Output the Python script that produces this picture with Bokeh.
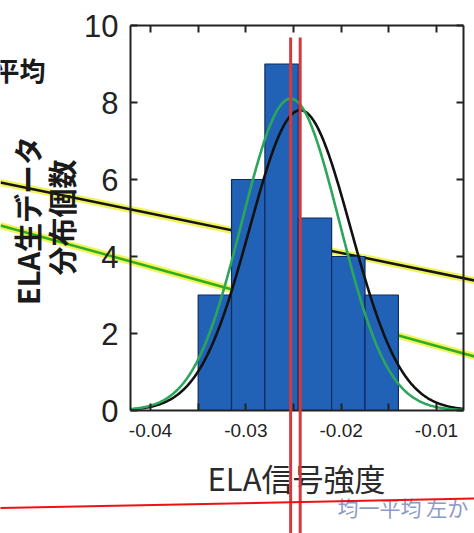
import numpy as np
from bokeh.plotting import figure
from bokeh.models import LinearAxis, FixedTicker, Label, Range1d, PrintfTickFormatter, CustomJSTickFormatter
from bokeh.embed import file_html
from bokeh.resources import INLINE

# ---------------- data ----------------
bin_edges = [-0.035, -0.0315, -0.028, -0.0245, -0.021, -0.0175, -0.014]
counts = [3, 6, 9, 5, 4, 3]
# normal fits (mean, sigma, peak height)
black_mean, black_sigma, black_peak = -0.0243, 0.0053, 7.8
green_mean, green_sigma, green_peak = -0.0253, 0.0051, 8.1
y_ticks = [0, 2, 4, 6, 8, 10]
x_major_ticks = [-0.04, -0.03, -0.02, -0.01]
x_minor_ticks = [-0.035, -0.025, -0.015]
x_title = "ELA信号強度"
y_title_1 = "ELA生データ"
y_title_2 = "分布個数"
top_text = "平均"
bottom_text = "均一平均 左か"

# ---------------- layout helpers (canvas px -> data) ----------------
W, H = 474, 533
X_PER_PX = 0.03 / 286.0


def xd(px):
    return -0.04 + (px - 150) * X_PER_PX


def yd(py):
    return (410 - py) / 38.5


X_LEFT, X_RIGHT = xd(130), xd(463)
Y_BOTTOM, Y_TOP = 0, 10

p = figure(width=W, height=H, output_backend="svg", toolbar_location=None,
           x_range=Range1d(xd(0), xd(W)), y_range=Range1d(yd(H), yd(0)),
           x_axis_location=None, y_axis_location=None, min_border=0,
           outline_line_color=None, background_fill_color="white",
           border_fill_color="white")
p.min_border_left = p.min_border_right = p.min_border_top = p.min_border_bottom = 0
p.grid.grid_line_color = None

# diagonal highlighted lines (behind the bars)
p.line([xd(0), xd(W)], [yd(182), yd(280)], line_color="#EEF23A", line_width=7, line_alpha=0.85)
p.line([xd(0), xd(W)], [yd(182), yd(280)], line_color="#151515", line_width=2.5)
p.line([xd(0), xd(W)], [yd(225), yd(356)], line_color="#EEF23A", line_width=7, line_alpha=0.85)
p.line([xd(0), xd(W)], [yd(225), yd(356)], line_color="#2EAE22", line_width=2.5)

# histogram
p.quad(left=bin_edges[:-1], right=bin_edges[1:], bottom=0, top=counts,
       fill_color="#2262B6", line_color="#0E2B5E", line_width=1.2)

# fitted curves
xs = np.linspace(X_LEFT, X_RIGHT, 400)
p.line(xs, black_peak * np.exp(-0.5 * ((xs - black_mean) / black_sigma) ** 2),
       line_color="#111111", line_width=2.6)
p.line(xs, green_peak * np.exp(-0.5 * ((xs - green_mean) / green_sigma) ** 2),
       line_color="#2BA65A", line_width=2.6)

# axes (box)
style = dict(axis_line_color="#222222", axis_line_width=2,
             major_tick_line_color="#222222", major_tick_line_width=2,
             minor_tick_line_color="#222222", minor_tick_line_width=2,
             major_tick_in=7, major_tick_out=0, minor_tick_in=7, minor_tick_out=0)
blank = CustomJSTickFormatter(code="return ''")

left = LinearAxis(fixed_location=X_LEFT, bounds=(Y_BOTTOM, Y_TOP),
                  ticker=FixedTicker(ticks=y_ticks),
                  major_label_text_font="Liberation Sans", major_label_text_font_size="31px",
                  major_label_text_color="#222222", major_label_standoff=12, **style)
right = LinearAxis(fixed_location=X_RIGHT, bounds=(Y_BOTTOM, Y_TOP),
                   ticker=FixedTicker(ticks=y_ticks), formatter=blank,
                   major_label_text_font_size="1px", **style)
bottom = LinearAxis(fixed_location=Y_BOTTOM, bounds=(X_LEFT, X_RIGHT),
                    ticker=FixedTicker(ticks=x_major_ticks, minor_ticks=x_minor_ticks),
                    formatter=PrintfTickFormatter(format="%.2f"),
                    major_label_text_font="Liberation Sans", major_label_text_font_size="19px",
                    major_label_text_color="#222222", major_label_standoff=13, **style)
top = LinearAxis(fixed_location=Y_TOP, bounds=(X_LEFT, X_RIGHT),
                 ticker=FixedTicker(ticks=x_major_ticks, minor_ticks=x_minor_ticks),
                 formatter=blank, major_label_text_font_size="1px", **style)
p.add_layout(left, "left")
p.add_layout(right, "right")
p.add_layout(bottom, "below")
p.add_layout(top, "above")

# titles / texts
p.add_layout(Label(x=xd(296), y=yd(477), text=x_title, text_align="center", text_baseline="middle",
                   text_font="Noto Sans CJK JP", text_font_size="31px", text_color="#2A2A2A"))
p.add_layout(Label(x=xd(26), y=yd(220), text=y_title_1, angle=np.pi / 2, text_align="center",
                   text_baseline="middle", text_font="Noto Sans CJK JP", text_font_style="bold",
                   text_font_size="29px", text_color="#1A1A1A"))
p.add_layout(Label(x=xd(60), y=yd(217), text=y_title_2, angle=np.pi / 2, text_align="center",
                   text_baseline="middle", text_font="Noto Sans CJK JP", text_font_style="bold",
                   text_font_size="29px", text_color="#1A1A1A"))
p.add_layout(Label(x=xd(45), y=yd(69), text=top_text, text_align="right", text_baseline="middle",
                   text_font="Noto Sans CJK JP", text_font_style="bold",
                   text_font_size="26px", text_color="#1A1A1A"))
p.add_layout(Label(x=xd(337), y=yd(506), text=bottom_text, text_align="left", text_baseline="middle",
                   text_font="Noto Sans CJK JP", text_font_size="21px", text_color="#8C9AC6"))

# red marker lines (on top)
p.segment(x0=[green_mean, black_mean], y0=yd(37), x1=[green_mean, black_mean], y1=yd(H),
          line_color="#D23A3E", line_width=3, level="overlay")
p.line([xd(0), xd(W)], [yd(507.6), yd(498)], line_color="#EE1111", line_width=2, level="overlay")

open("out.html", "w").write(file_html(p, INLINE))
